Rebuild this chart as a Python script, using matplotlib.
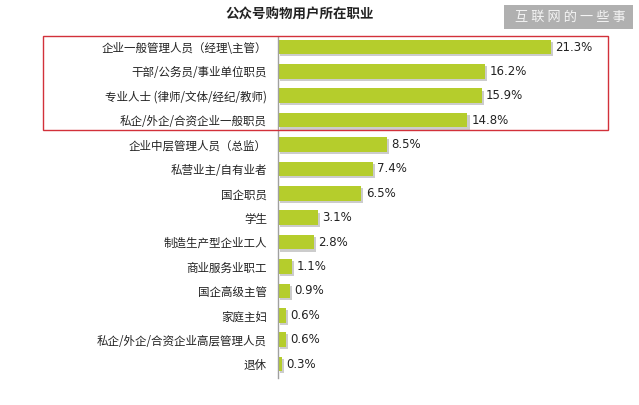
import matplotlib
matplotlib.use("Agg")
import matplotlib.pyplot as plt
import matplotlib.patheffects as pe
from matplotlib.patches import Rectangle

plt.rcParams['font.family'] = ['Noto Sans CJK SC', 'DejaVu Sans']

# data
title = "公众号购物用户所在职业"
jobs = [
    "企业一般管理人员（经理\\主管）",
    "干部/公务员/事业单位职员",
    "专业人士 (律师/文体/经纪/教师)",
    "私企/外企/合资企业一般职员",
    "企业中层管理人员（总监）",
    "私营业主/自有业者",
    "国企职员",
    "学生",
    "制造生产型企业工人",
    "商业服务业职工",
    "国企高级主管",
    "家庭主妇",
    "私企/外企/合资企业高层管理人员",
    "退休",
]
shares = [21.3, 16.2, 15.9, 14.8, 8.5, 7.4, 6.5, 3.1, 2.8, 1.1, 0.9, 0.6, 0.6, 0.3]
watermark = "互联网的一些事"

W, H = 639, 405
fig = plt.figure(figsize=(W / 100, H / 100), dpi=100)
fig.patch.set_facecolor("white")

# axes placed in pixel terms
left, right, top, bottom = 278, 620, 37, 378
ax = fig.add_axes([left / W, 1 - bottom / H, (right - left) / W, (bottom - top) / H])

ypos = list(range(len(jobs)))
bars = ax.barh(ypos, shares, height=0.6, color="#b5cd2c", edgecolor="none")
for b in bars:
    b.set_path_effects([pe.SimplePatchShadow(offset=(1.5, -1.5), shadow_rgbFace="#9a9a9a", alpha=0.5),
                        pe.Normal()])

for y, v in zip(ypos, shares):
    ax.text(v + 0.35, y, f"{v}%", va="center", ha="left", fontsize=8.5, color="#222222",
            family=["DejaVu Sans"])

ax.set_xlim(0, (right - left) / 12.8)
ax.set_ylim(13.57, -0.41)
ax.set_yticks(ypos)
ax.set_yticklabels(jobs, fontsize=8.3, color="#222222")
ax.tick_params(axis="y", length=0, pad=8)
ax.set_xticks([])
for s in ["top", "right", "bottom"]:
    ax.spines[s].set_visible(False)
ax.spines["left"].set_color("#a0a0a0")
ax.spines["left"].set_linewidth(1.0)
ax.patch.set_alpha(0)

# title
fig.text(300 / W, 1 - 15 / H, title, ha="center", va="center", fontsize=9.7, fontweight="bold",
         color="#222222")

# red highlight box around top four
fig.patches.append(Rectangle((43 / W, 1 - 130 / H), (608 - 43) / W, (130 - 36) / H,
                             transform=fig.transFigure, fill=False, edgecolor="#d2313a",
                             linewidth=1.0))

# watermark in upper right
fig.patches.append(Rectangle((504 / W, 1 - 29 / H), (633 - 504) / W, 24 / H,
                             transform=fig.transFigure, facecolor="#b0b0b0", edgecolor="none"))
fig.text(570 / W, 1 - 17 / H, " ".join(watermark), ha="center",
         va="center", fontsize=9.5, color="#f4f4f4")

fig.savefig("out.png", dpi=100)
